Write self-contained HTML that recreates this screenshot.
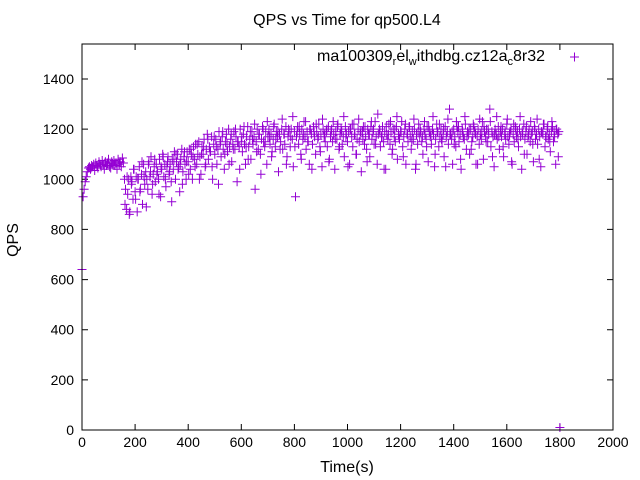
<!DOCTYPE html>
<html><head><meta charset="utf-8"><style>
body{margin:0;background:#fff;}
svg{display:block;font-family:"Liberation Sans",sans-serif;}
</style></head><body>
<svg id="chart" width="640" height="480" viewBox="0 0 640 480" xmlns="http://www.w3.org/2000/svg">
<rect width="640" height="480" fill="#fff"/>
<text x="347" y="25" font-size="16" text-anchor="middle">QPS vs Time for qp500.L4</text>
<text transform="translate(18,240) rotate(-90)" font-size="16" text-anchor="middle">QPS</text>
<text x="347" y="472" font-size="16" text-anchor="middle">Time(s)</text>
<g id="axes"></g>
<g id="marks"></g>
<g>
<text x="545" y="61" font-size="16" text-anchor="end">ma100309<tspan font-size="11" dy="4">r</tspan><tspan dy="-4">el</tspan><tspan font-size="11" dy="4">w</tspan><tspan dy="-4">ithdbg.cz12a</tspan><tspan font-size="11" dy="4">c</tspan><tspan dy="-4">8r32</tspan></text>
<path d="M570,57h9M574.5,52.5v9" stroke="#9400d3" stroke-width="1"/>
</g>
<rect x="82" y="44" width="531" height="386" fill="none" stroke="#000" stroke-width="1"/>
</svg>
<script>
const xTicks=[0,200,400,600,800,1000,1200,1400,1600,1800,2000];
const yTicks=[0,200,400,600,800,1000,1200,1400];
const step=4;
const qps=[
640,930,960,990,1010,1030,1045,1050,1040,1055,
1050,1060,1035,1065,1055,1045,1070,1060,1050,1075,
1060,1040,1070,1055,1065,1080,1050,1045,1070,1060,
1075,1055,1065,1040,1080,1060,1070,1050,1085,1065,
1000,960,880,940,1000,870,1010,990,920,1040,
950,1010,870,1000,1050,960,1020,900,1060,980,
1030,1000,960,1070,1010,1090,940,1020,1050,990,
1060,1030,1000,1080,930,1040,1100,1010,1060,970,
1050,1090,1020,1060,990,1080,1040,1110,1000,1070,
1100,1050,950,1080,1120,1030,1090,1060,1000,1110,
1070,1120,1040,1100,1000,1130,1080,1140,1060,1100,
1150,1090,1020,1130,1100,1160,1050,1120,1180,1080,
1130,1110,1170,1000,1140,1100,1160,1060,1120,1190,
1140,1090,1170,1120,1040,1150,1180,1110,1200,1130,
1160,1070,1140,1190,1120,1170,990,1150,1130,1200,
1150,1110,1180,1140,1060,1170,1210,1130,1160,1080,
1190,1140,1170,960,1150,1200,1120,1180,1100,1160,
1210,1150,1130,1190,1060,1170,1200,1140,1180,1110,
1160,1220,1130,1190,1170,1030,1180,1150,1200,1120,
1180,1140,1210,1090,1170,1190,1130,1200,1160,1050,
1190,930,1170,1210,1140,1180,1100,1200,1160,1230,
1170,1120,1190,1150,1060,1200,1180,1140,1210,1170,
1100,1190,1160,1220,1130,1180,1050,1200,1170,1150,
1190,1130,1210,1080,1170,1200,1150,1180,1040,1190,
1160,1220,1120,1180,1200,1140,1170,1090,1210,1180,
1150,1190,1060,1200,1170,1130,1220,1180,1100,1160,
1200,1150,1180,1030,1190,1210,1140,1170,1120,1200,
1180,1090,1210,1160,1190,1140,1230,1170,1060,1180,
1200,1130,1170,1210,1150,1190,1040,1180,1160,1220,
1140,1190,1100,1200,1170,1150,1210,1080,1180,1160,
1190,1230,1130,1170,1200,1060,1180,1150,1210,1170,
1120,1190,1160,1200,1040,1180,1140,1220,1170,1190,
1150,1100,1200,1180,1160,1210,1070,1190,1170,1140,
1200,1180,1050,1160,1220,1190,1130,1170,1200,1150,
1180,1090,1210,1170,1190,1140,1280,1180,1160,1060,
1200,1170,1130,1210,1190,1150,1180,1040,1200,1170,
1160,1220,1120,1190,1180,1100,1200,1150,1170,1210,
1190,1060,1170,1200,1140,1180,1160,1230,1080,1190,
1170,1200,1150,1180,1280,1130,1190,1170,1050,1200,
1180,1160,1210,1120,1190,1170,1200,1090,1180,1160,
1220,1170,1140,1190,1200,1060,1180,1150,1210,1170,
1190,1130,1200,1170,1040,1180,1220,1160,1190,1100,
1170,1200,1150,1180,1190,1070,1210,1160,1180,1140,
1200,1170,1050,1190,1180,1220,1130,1170,1200,1160,
1180,1110,1190,1210,1150,1170,1060,1200,1180,1190,
10];
const start2=162;
const step2=8;
const qps2=[
900,1010,860,980,1040,920,1000,950,1070,1010,
890,1060,1030,980,1080,1020,940,1050,1090,1000,
1070,1030,910,1080,1100,1040,1060,980,1110,1070,
1020,1120,1090,1050,1140,1000,1100,1130,1060,1160,
1110,1050,1170,1130,980,1150,1190,1100,1140,1060,
1180,1120,1200,1150,1040,1170,1210,1130,1080,1190,
1160,1220,1110,1180,1020,1200,1150,1230,1170,1090,
1210,1160,1190,1120,1240,1180,1060,1200,1170,1250,
1130,1190,1210,1080,1180,1230,1150,1200,1040,1190,
1220,1170,1110,1240,1180,1200,1070,1190,1230,1160,
1210,1130,1190,1250,1170,1050,1200,1220,1180,1100,
1240,1190,1160,1210,1070,1180,1230,1200,1140,1260,
1190,1170,1040,1210,1180,1230,1120,1200,1250,1170,
1190,1090,1220,1180,1210,1150,1240,1060,1190,1200,
1170,1230,1130,1210,1180,1250,1100,1190,1220,1160,
1200,1050,1240,1180,1190,1140,1230,1210,1080,1190,
1250,1170,1200,1120,1220,1180,1060,1240,1190,1210,
1150,1200,1230,1090,1180,1250,1170,1210,1130,1190,
1240,1180,1070,1220,1200,1160,1250,1190,1100,1210,
1180,1230,1140,1200,1240,1080,1190,1220,1170,1210,
1150,1230,1190,1200,1090];
const X0=82,X1=613,Y0=430,Y1=79;
function xs(v){return X0+v*(X1-X0)/2000;}
function ys(v){return Y0-v*(Y0-Y1)/1400;}
const NS="http://www.w3.org/2000/svg";
const axes=document.getElementById('axes');
function el(tag,attrs,parent){const e=document.createElementNS(NS,tag);for(const k in attrs)e.setAttribute(k,attrs[k]);parent.appendChild(e);return e;}
xTicks.forEach(t=>{
  const x=xs(t);
  const tk=el('path',{d:`M${x},430v-6M${x},44v6`,stroke:'#000','stroke-width':1},axes);
  
  
  const lb=el('text',{x:x,y:447,'font-size':14,'text-anchor':'middle'},axes);
  lb.textContent=t;
  
  
});
yTicks.forEach(t=>{
  const y=ys(t);
  const tk=el('path',{d:`M82,${y}h6M613,${y}h-6`,stroke:'#000','stroke-width':1},axes);
  
  
  const lb=el('text',{x:74,y:y+5,'font-size':14,'text-anchor':'end'},axes);
  lb.textContent=t;
  
  
});
const marks=document.getElementById('marks');
let d='';
function cross(x,y){return `M${(x-4.5).toFixed(1)},${y.toFixed(1)}h9M${x.toFixed(1)},${(y-4.5).toFixed(1)}v9`;}
qps.forEach((v,i)=>{d+=cross(xs(i*step),ys(v));});
qps2.forEach((v,i)=>{d+=cross(xs(start2+i*step2),ys(v));});
const p=el('path',{d:d,stroke:'#9400d3','stroke-width':1,fill:'none'},marks);


</script>
</body></html>
